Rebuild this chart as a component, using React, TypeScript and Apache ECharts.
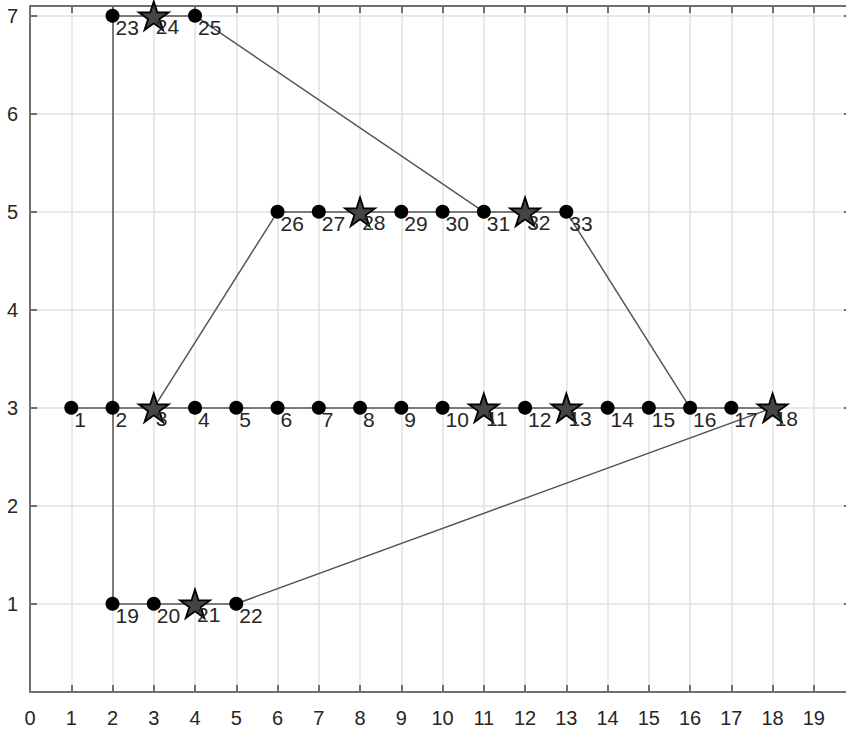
import React, { useEffect, useRef } from 'react';
import * as echarts from 'echarts';

// Node coordinates (node id = index + 1)
const nodeX = [1, 2, 3, 4, 5, 6, 7, 8, 9, 10, 11, 12, 13, 14, 15, 16, 17, 18, 2, 3, 4, 5, 2, 3, 4, 6, 7, 8, 9, 10, 11, 12, 13];
const nodeY = [3, 3, 3, 3, 3, 3, 3, 3, 3, 3, 3, 3, 3, 3, 3, 3, 3, 3, 1, 1, 1, 1, 7, 7, 7, 5, 5, 5, 5, 5, 5, 5, 5];
// Nodes drawn with a pentagram marker
const starNodes = [3, 11, 13, 18, 21, 24, 28, 32];
// Edges between nodes
const edges = [
  [1, 2], [2, 3], [3, 4], [4, 5], [5, 6], [6, 7], [7, 8], [8, 9], [9, 10], [10, 11],
  [11, 12], [12, 13], [13, 14], [14, 15], [15, 16], [16, 17], [17, 18],
  [2, 19], [2, 23], [19, 20], [20, 21], [21, 22], [22, 18],
  [23, 24], [24, 25], [25, 31],
  [26, 27], [27, 28], [28, 29], [29, 30], [30, 31], [31, 32], [32, 33],
  [3, 26], [33, 16],
];

const STAR_PATH =
  'path://M0,-100L22.45,-30.9L95.1,-30.9L36.33,11.8L58.78,80.9L0,38.2L-58.78,80.9L-36.33,11.8L-95.1,-30.9L-22.45,-30.9Z';

const FONT = "'Liberation Sans', Arial, Helvetica, sans-serif";
const AXIS_COLOR = '#707070';
const TEXT_COLOR = '#262626';
const GRID_COLOR = '#e2e2e2';

export default function App() {
  const ref = useRef<HTMLDivElement>(null);

  useEffect(() => {
    if (!ref.current) return;
    const chart = echarts.init(ref.current, undefined, { renderer: 'svg' });

    const nodes = nodeX.map((x, i) => [x, nodeY[i], i + 1]);
    const circleData = nodes.filter((n) => !starNodes.includes(n[2] as number));
    const starData = nodes.filter((n) => starNodes.includes(n[2] as number));

    const intLabel = (v: number) => (Number.isInteger(v) ? String(v) : '');

    const baseX = {
      type: 'value' as const,
      min: 0,
      max: 19.9,
      interval: 1,
      axisLine: { show: true, onZero: false, lineStyle: { color: AXIS_COLOR, width: 2 } },
      axisTick: { show: true, inside: true, length: 7, lineStyle: { color: AXIS_COLOR, width: 2 } },
    };
    const baseY = {
      type: 'value' as const,
      min: 0.1,
      max: 7.1,
      splitNumber: 7,
      minInterval: 1,
      maxInterval: 1,
      axisLine: { show: true, onZero: false, lineStyle: { color: AXIS_COLOR, width: 2 } },
      axisTick: { show: true, inside: true, length: 7, lineStyle: { color: AXIS_COLOR, width: 2 } },
    };

    const nodeLabel = (pos: number[]) => ({
      show: true,
      position: pos,
      align: 'left',
      verticalAlign: 'top',
      color: TEXT_COLOR,
      fontFamily: FONT,
      fontSize: 21,
      formatter: (p: any) => String(p.value[2]),
    });

    chart.setOption({
      animation: false,
      backgroundColor: '#ffffff',
      grid: {
        left: 30,
        top: 6,
        width: 821,
        height: 686,
        containLabel: false,
        outerBoundsMode: 'none',
      },
      xAxis: [
        {
          ...baseX,
          position: 'bottom',
          axisLabel: {
            show: true,
            color: TEXT_COLOR,
            fontFamily: FONT,
            fontSize: 20,
            margin: 16,
            formatter: intLabel,
          },
          splitLine: { show: true, lineStyle: { color: GRID_COLOR, width: 1.5 } },
        },
        {
          ...baseX,
          position: 'top',
          axisLabel: { show: false },
          splitLine: { show: false },
        },
      ],
      yAxis: [
        {
          ...baseY,
          position: 'left',
          axisLabel: {
            show: true,
            color: TEXT_COLOR,
            fontFamily: FONT,
            fontSize: 20,
            margin: 12,
            formatter: intLabel,
          },
          splitLine: { show: true, lineStyle: { color: GRID_COLOR, width: 1.5 } },
        },
        {
          ...baseY,
          position: 'right',
          axisLabel: { show: false },
          splitLine: { show: false },
        },
      ],
      series: [
        {
          type: 'lines',
          coordinateSystem: 'cartesian2d',
          xAxisIndex: 0,
          yAxisIndex: 0,
          silent: true,
          z: 2,
          lineStyle: { color: '#555555', width: 1.5, opacity: 1 },
          data: edges.map(([a, b]) => ({
            coords: [
              [nodeX[a - 1], nodeY[a - 1]],
              [nodeX[b - 1], nodeY[b - 1]],
            ],
          })),
        },
        {
          type: 'scatter',
          xAxisIndex: 0,
          yAxisIndex: 0,
          z: 4,
          symbol: 'circle',
          symbolSize: 14,
          itemStyle: { color: '#000000', opacity: 1 },
          label: nodeLabel([10, 8.5]),
          data: circleData,
        },
        {
          type: 'scatter',
          xAxisIndex: 0,
          yAxisIndex: 0,
          z: 5,
          symbol: STAR_PATH,
          symbolSize: [30, 28.5],
          itemStyle: { color: '#454545', borderColor: '#000000', borderWidth: 1.8, opacity: 1 },
          label: nodeLabel([18, 15.75]),
          data: starData,
        },
      ],
    });

    return () => chart.dispose();
  }, []);

  return (
    <div
      ref={ref}
      style={{ position: 'fixed', left: 0, top: 0, width: 846, height: 730, background: '#fff' }}
    />
  );
}
